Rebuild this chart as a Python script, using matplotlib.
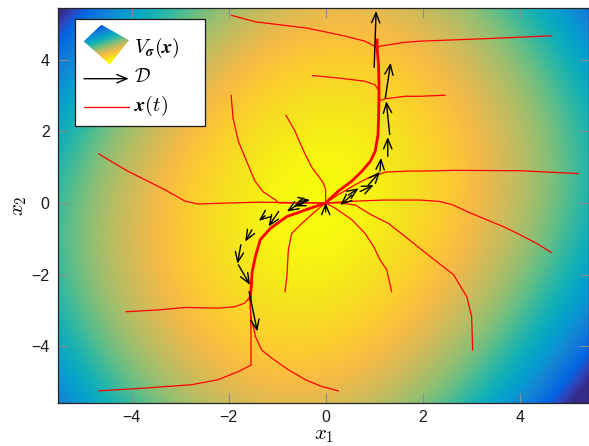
import numpy as np
import matplotlib
matplotlib.use('Agg')
import matplotlib.pyplot as plt
from matplotlib.colors import LinearSegmentedColormap
from matplotlib.patches import Polygon, Rectangle

plt.rcParams['mathtext.fontset'] = 'cm'
plt.rcParams['font.family'] = ['Liberation Sans', 'DejaVu Sans']

# parula (MATLAB) anchors, every 4th entry of the 64 table
parula_rgb = [
    (0.2081, 0.1663, 0.5292), (0.1959, 0.2645, 0.7279), (0.0117, 0.3875, 0.8820),
    (0.0498, 0.4586, 0.8641), (0.0793, 0.5200, 0.8312), (0.0343, 0.5966, 0.8199),
    (0.0228, 0.6535, 0.7768), (0.0843, 0.6928, 0.7062), (0.2178, 0.7250, 0.6193),
    (0.3953, 0.7459, 0.5244), (0.5709, 0.7485, 0.4494), (0.7184, 0.7411, 0.3905),
    (0.8507, 0.7299, 0.3360), (0.9739, 0.7314, 0.2666), (0.9880, 0.8066, 0.1794),
    (0.9589, 0.8949, 0.1132), (0.9763, 0.9831, 0.0538)]
parula_pos = [0, 4, 8, 12, 16, 20, 24, 28, 32, 36, 40, 44, 48, 52, 56, 60, 63]
parula = LinearSegmentedColormap.from_list(
    'parula', list(zip([p / 63 for p in parula_pos], parula_rgb)), N=256)

# limits
x_lim = (-5.52, 5.43)
y_lim = (-5.59, 5.46)

# V_sigma(x) surface coefficients (fitted by eye to the colours)
v_a, v_b, v_c, v_d, v_e = 0.0172, 0.0074, 0.0045, 0.0002, 0.006

# demonstration path (thick red)
demo_up_x = [1.06, 1.06, 1.09, 1.10, 1.09, 1.08, 1.02, 0.92, 0.75, 0.54, 0.26, 0.0]
demo_up_y = [4.55, 4.33, 3.86, 3.12, 2.37, 1.91, 1.44, 1.16, 0.89, 0.61, 0.33, 0.0]
demo_lo_x = [-1.56, -1.53, -1.52, -1.45, -1.35, -1.14, -0.80, -0.32, 0.0]
demo_lo_y = [-2.71, -2.24, -1.96, -1.50, -1.03, -0.71, -0.38, -0.15, 0.0]

# trajectories x(t) that merge into the upper demonstration: (x, y, join index)
traj_up = [
    ([-1.94, -1.45, -0.42, -0.08, 0.40, 0.81, 1.01],
     [5.24, 5.06, 4.89, 4.80, 4.66, 4.52, 4.38], 1),
    ([4.66, 3.32, 1.95, 1.64, 1.12],
     [4.67, 4.59, 4.52, 4.49, 4.38], 1),
    ([-0.27, 0.26, 0.81, 1.02],
     [3.56, 3.49, 3.40, 3.30], 3),
    ([2.46, 1.95, 1.64, 1.23, 1.10],
     [3.01, 2.98, 2.98, 2.91, 2.85], 4),
]
# trajectories that merge into the lower demonstration
traj_lo = [
    ([-4.11, -3.45, -2.90, -2.22, -1.87, -1.67, -1.56],
     [-3.04, -2.99, -2.92, -2.94, -2.90, -2.80, -2.62], 1),
    ([0.26, -0.08, -0.42, -0.77, -1.11, -1.32, -1.45, -1.46, -1.53, -1.56],
     [-5.25, -5.13, -4.94, -4.66, -4.34, -4.11, -3.73, -3.64, -3.27, -2.90], 1),
    ([-4.68, -3.80, -2.77, -2.22, -1.80, -1.54, -1.54, -1.55],
     [-5.25, -5.18, -5.08, -4.94, -4.71, -4.53, -3.55, -2.95], 1),
]
# trajectories going straight to the origin
traj_free = [
    ([-0.82, -0.63, -0.56, -0.42, -0.28, -0.15, -0.05, 0.0, 0.0, 0.0],
     [2.45, 2.00, 1.77, 1.35, 0.98, 0.75, 0.56, 0.37, 0.05, 0.0]),
    ([5.21, 4.01, 2.64, 1.95, 1.71, 1.23, 0.88, 0.61, 0.26, 0.0],
     [0.82, 0.90, 0.91, 0.89, 0.89, 0.86, 0.70, 0.51, 0.23, 0.0]),
    ([-1.95, -1.91, -1.80, -1.63, -1.46, -1.28, -1.04, -0.97, 0.0],
     [3.00, 2.37, 1.72, 1.16, 0.61, 0.30, 0.09, 0.0, 0.0]),
    ([-4.68, -4.42, -4.07, -3.73, -3.32, -2.90, -2.63, -1.94, -1.39, 0.0],
     [1.37, 1.16, 0.88, 0.65, 0.37, 0.05, -0.03, 0.0, 0.02, 0.0]),
    ([4.66, 4.35, 4.01, 3.66, 3.32, 2.98, 2.63, 2.36, 1.95, 1.20, 0.61, 0.0],
     [-1.39, -1.13, -0.89, -0.66, -0.47, -0.28, -0.06, 0.04, 0.08, 0.08, 0.05, 0.0]),
    ([3.03, 3.02, 3.01, 2.91, 2.74, 2.64, 2.29, 1.98, 1.64, 1.29, 0.95, 0.61, 0.30, 0.0],
     [-4.11, -3.60, -3.18, -2.62, -2.24, -2.01, -1.64, -1.31, -0.94, -0.57, -0.34, -0.06, 0.0, 0.0]),
    ([1.36, 1.26, 1.12, 0.99, 0.81, 0.54, 0.20, 0.0],
     [-2.48, -1.87, -1.59, -1.22, -0.85, -0.47, -0.15, 0.0]),
    ([-0.84, -0.80, -0.77, -0.70, -0.49, -0.22, 0.0],
     [-2.48, -2.06, -1.31, -0.85, -0.57, -0.24, 0.0]),
]

# demonstration data D (arrows: tail -> head)
arr_x0 = [1.00, 1.23, 1.32, 1.28, 1.12, 0.88, 0.71, 0.47, 0.54, 0.0, -0.56, -0.42,
          -0.59, -0.97, -1.25, -1.52, -1.75, -1.80, -1.58]
arr_y0 = [3.79, 2.93, 1.91, 1.30, 0.89, 0.50, 0.32, 0.22, 0.22, -0.25, 0.04, 0.04,
          -0.06, -0.24, -0.36, -0.75, -1.17, -1.73, -2.48]
arr_x1 = [1.04, 1.34, 1.25, 1.28, 1.14, 1.12, 0.99, 0.68, 0.30, 0.0, -0.32, -0.66,
          -0.80, -1.18, -1.38, -1.66, -1.82, -1.56, -1.41]
arr_y1 = [5.36, 3.91, 2.84, 1.84, 1.26, 0.87, 0.50, 0.41, -0.06, 0.0, 0.08, -0.10,
          -0.24, -0.66, -0.50, -1.08, -1.70, -2.29, -3.59]

arrow_style = dict(arrowstyle='->,head_length=0.6,head_width=0.25', color='k', lw=1,
                   shrinkA=0, shrinkB=0, mutation_scale=12)

fig = plt.figure(figsize=(5.89, 4.46), dpi=100)
ax = fig.add_axes([58 / 589, 43 / 446, 531 / 589, 395.5 / 446])

gx, gy = np.meshgrid(np.linspace(*x_lim, 500), np.linspace(*y_lim, 500))
V = 1 - (v_a * gx**2 + v_b * gy**2 - v_c * gx * gy + v_d * gx**2 * gy**2 + v_e * gx)
ax.imshow(np.clip(V, 0, 1), extent=[*x_lim, *y_lim], origin='lower', aspect='auto',
          cmap=parula, vmin=0, vmax=1, interpolation='bilinear')

red = '#ff0000'
for tx, ty, k in traj_up:
    ax.plot(tx + demo_up_x[k:], ty + demo_up_y[k:], color=red, lw=0.9)
for tx, ty, k in traj_lo:
    ax.plot(tx + demo_lo_x[k:], ty + demo_lo_y[k:], color=red, lw=0.9)
for tx, ty in traj_free:
    ax.plot(tx, ty, color=red, lw=0.9)
ax.plot(demo_up_x, demo_up_y, color=red, lw=2)
ax.plot(demo_lo_x, demo_lo_y, color=red, lw=2)

for x0, y0, x1, y1 in zip(arr_x0, arr_y0, arr_x1, arr_y1):
    ax.annotate('', xy=(x1, y1), xytext=(x0, y0), arrowprops=arrow_style)

ax.set_xlim(*x_lim)
ax.set_ylim(*y_lim)
ax.set_xticks([-4, -2, 0, 2, 4])
ax.set_yticks([-4, -2, 0, 2, 4])
ax.tick_params(direction='in', length=7, width=0.8, color='0.55', top=True, right=True,
               labelsize=11.5, labelcolor='0.1')
ax.tick_params(axis='x', pad=5)
ax.tick_params(axis='y', pad=6)
for s in ax.spines.values():
    s.set_color('0.15')
    s.set_linewidth(0.9)
ax.set_xlabel(r'$x_1$', fontsize=15, labelpad=1)
ax.set_ylabel(r'$x_2$', fontsize=15, labelpad=2)

# legend drawn by hand, in figure pixel coordinates (y from top)
leg_ax = fig.add_axes([0, 0, 1, 1], facecolor='none', zorder=3)
leg_ax.axis('off')
leg_ax.set_xlim(0, 589)
leg_ax.set_ylim(446, 0)
leg_ax.add_patch(Rectangle((75.3, 18.7), 129.4, 107.6, facecolor='white',
                           edgecolor='0.1', lw=0.9))
leg_ax.annotate('', xy=(128.7, 78.7), xytext=(84, 78.7), arrowprops=arrow_style)
leg_ax.plot([84, 128.7], [106.7, 106.7], color=red, lw=0.9)
leg_ax.text(134, 48, r'$V_{\boldsymbol{\sigma}}(\boldsymbol{x})$', fontsize=14.5,
            va='center', ha='left')
leg_ax.text(134, 77, r'$\mathcal{D}$', fontsize=14, va='center', ha='left')
leg_ax.text(134, 106, r'$\boldsymbol{x}(t)$', fontsize=14.5, va='center', ha='left')

icon = fig.add_axes([83.7 / 589, 1 - 64.7 / 446, 45.3 / 589, 40 / 446],
                    facecolor='none', zorder=4)
icon.set_xlim(83.7, 129)
icon.set_ylim(64.7, 24.7)
icon.axis('off')
ix, iy = np.meshgrid(np.linspace(83.7, 129, 60), np.linspace(24.7, 64.7, 60))
grad = np.clip(((iy - 27) + 0.35 * (ix - 84)) / 42, 0, 1)
im = icon.imshow(grad, extent=[83.7, 129, 64.7, 24.7], cmap=parula, vmin=0, vmax=1,
                 aspect='auto')
diamond = Polygon([(101.3, 24.7), (129, 40.3), (109.7, 64.7), (83.7, 41.3)],
                  closed=True, facecolor='none', edgecolor='none')
icon.add_patch(diamond)
im.set_clip_path(diamond)

fig.savefig('out.png', dpi=100)
